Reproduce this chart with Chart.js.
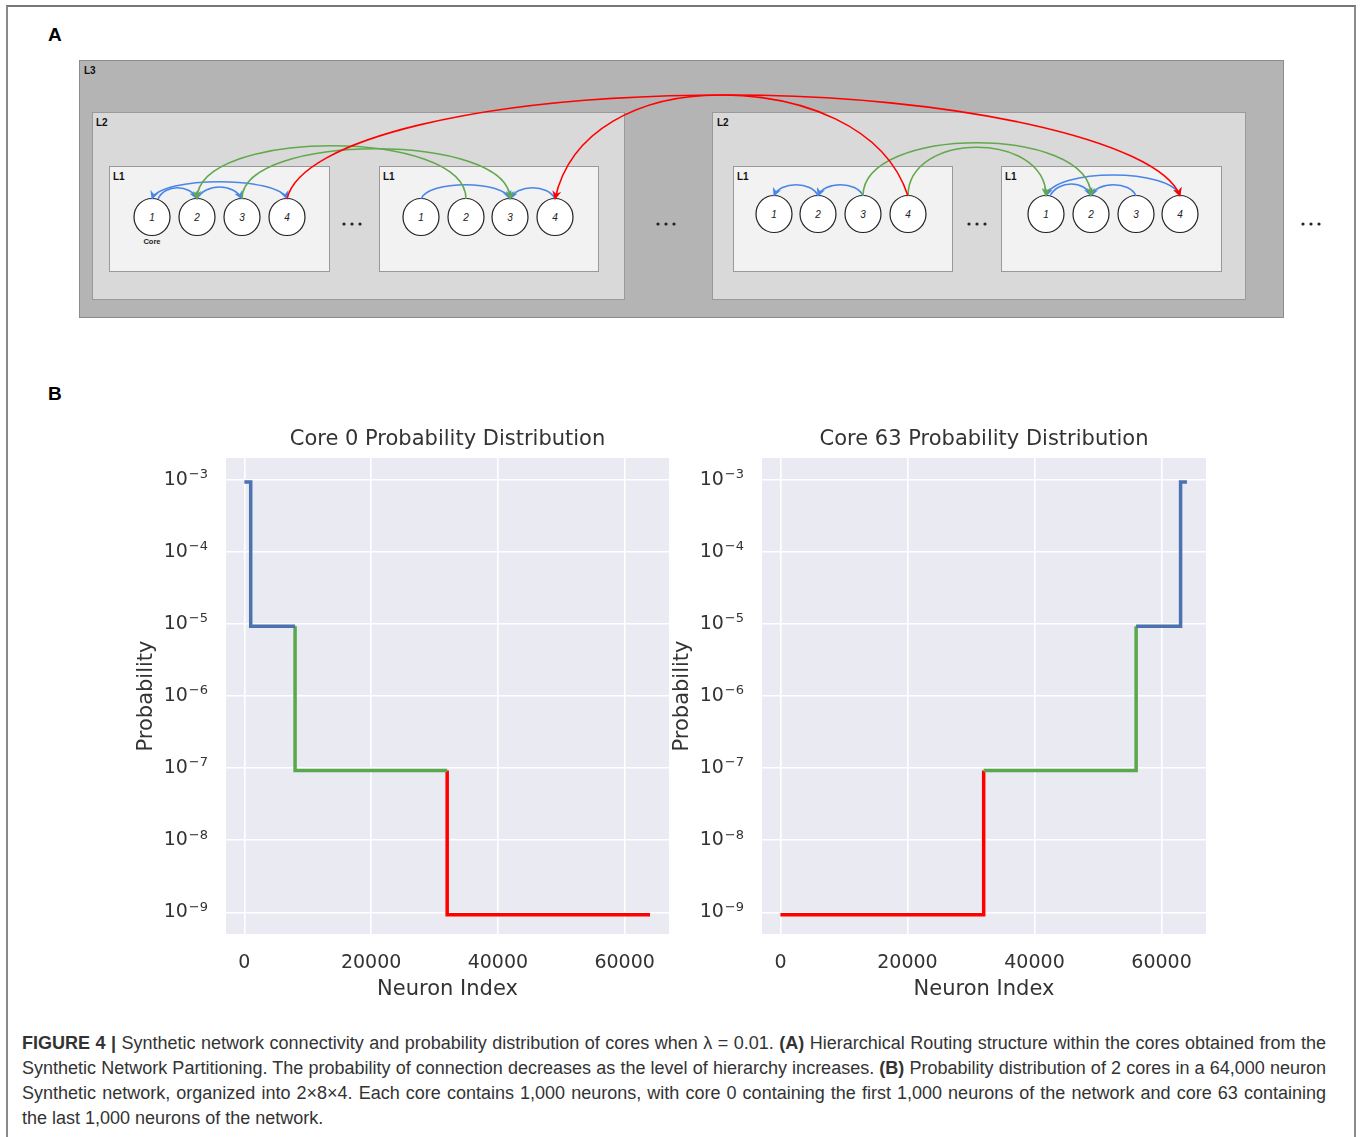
<!DOCTYPE html>
<html>
<head>
<meta charset="utf-8">
<script src="https://cdn.jsdelivr.net/npm/chart.js@4.4.1/dist/chart.umd.min.js"></script>
<style>
  body { margin: 0; width: 1360px; height: 1137px; background: #fff; position: relative; overflow: hidden; font-family: 'Liberation Sans', Arial, sans-serif; }
  #frame { position: absolute; left: 6px; top: 5px; width: 1350px; height: 1140px; box-sizing: border-box;
           border-left: 2px solid #8a8a8a; border-top: 2px solid #777; border-right: 2px solid #8a8a8a; }
  .panel { position: absolute; font-weight: bold; font-size: 19px; color: #000; }
  #diagram { position: absolute; left: 0; top: 0; }
  canvas { position: absolute; }
  #caption { position: absolute; left: 22px; top: 1031px; width: 1304px; font-size: 18px; line-height: 25px; color: #333; }
  #caption div { white-space: nowrap; }
  #caption .j { text-align: justify; text-align-last: justify; }
</style>
</head>
<body>
<div id="frame"></div>
<div class="panel" style="left:48px; top:24px;">A</div>
<div class="panel" style="left:48px; top:383px;">B</div>

<svg id="diagram" width="1360" height="330" xmlns="http://www.w3.org/2000/svg">
  <defs>
    <marker id="ab" viewBox="0 0 10 10" refX="9" refY="5" markerWidth="9" markerHeight="9" markerUnits="userSpaceOnUse" orient="auto-start-reverse"><path d="M0,0 L10,5 L0,10 L3,5 z" fill="#4a86e8"/></marker>
    <marker id="ag" viewBox="0 0 10 10" refX="9" refY="5" markerWidth="9" markerHeight="9" markerUnits="userSpaceOnUse" orient="auto-start-reverse"><path d="M0,0 L10,5 L0,10 L3,5 z" fill="#62a84c"/></marker>
    <marker id="ar" viewBox="0 0 10 10" refX="9" refY="5" markerWidth="9" markerHeight="9" markerUnits="userSpaceOnUse" orient="auto-start-reverse"><path d="M0,0 L10,5 L0,10 L3,5 z" fill="#ff0000"/></marker>
  </defs>
  <!-- boxes -->
  <rect x="79.5" y="60.5" width="1204" height="257" fill="#b4b4b4" stroke="#8c8c8c"/>
  <rect x="92.5" y="112.5" width="532" height="187" fill="#d9d9d9" stroke="#9a9a9a"/>
  <rect x="712.5" y="112.5" width="533" height="187" fill="#d9d9d9" stroke="#9a9a9a"/>
  <rect x="109.5" y="166.5" width="220" height="105" fill="#f2f2f2" stroke="#999"/>
  <rect x="379.5" y="166.5" width="219" height="105" fill="#f2f2f2" stroke="#999"/>
  <rect x="733.5" y="166.5" width="219" height="105" fill="#f2f2f2" stroke="#999"/>
  <rect x="1001.5" y="166.5" width="220" height="105" fill="#f2f2f2" stroke="#999"/>
  <g font-family="Liberation Sans, Arial, sans-serif" font-weight="bold" font-size="10" fill="#111">
    <text x="84" y="74">L3</text>
    <text x="96" y="126">L2</text>
    <text x="717" y="126">L2</text>
    <text x="113" y="180">L1</text>
    <text x="383" y="180">L1</text>
    <text x="737" y="180">L1</text>
    <text x="1005" y="180">L1</text>
  </g>
  <g fill="#222">
    <circle cx="344" cy="224" r="1.6"/><circle cx="352" cy="224" r="1.6"/><circle cx="360" cy="224" r="1.6"/>
    <circle cx="658" cy="224" r="1.6"/><circle cx="666" cy="224" r="1.6"/><circle cx="674" cy="224" r="1.6"/>
    <circle cx="969" cy="224" r="1.6"/><circle cx="977" cy="224" r="1.6"/><circle cx="985" cy="224" r="1.6"/>
    <circle cx="1303" cy="224" r="1.6"/><circle cx="1311" cy="224" r="1.6"/><circle cx="1319" cy="224" r="1.6"/>
  </g>
  <!-- circles -->
  <g fill="#fff" stroke="#222" stroke-width="1.2">
    <ellipse cx="152" cy="217" rx="18" ry="18.5"/><ellipse cx="197" cy="217" rx="18" ry="18.5"/>
    <ellipse cx="242" cy="217" rx="18" ry="18.5"/><ellipse cx="287" cy="217" rx="18" ry="18.5"/>
    <ellipse cx="421" cy="217" rx="18" ry="18.5"/><ellipse cx="466" cy="217" rx="18" ry="18.5"/>
    <ellipse cx="510" cy="217" rx="18" ry="18.5"/><ellipse cx="555" cy="217" rx="18" ry="18.5"/>
    <ellipse cx="774" cy="214" rx="18" ry="18.5"/><ellipse cx="818" cy="214" rx="18" ry="18.5"/>
    <ellipse cx="863" cy="214" rx="18" ry="18.5"/><ellipse cx="908" cy="214" rx="18" ry="18.5"/>
    <ellipse cx="1046" cy="214" rx="18" ry="18.5"/><ellipse cx="1091" cy="214" rx="18" ry="18.5"/>
    <ellipse cx="1136" cy="214" rx="18" ry="18.5"/><ellipse cx="1180" cy="214" rx="18" ry="18.5"/>
  </g>
  <g font-family="Liberation Sans, Arial, sans-serif" font-style="italic" font-size="10" fill="#222" text-anchor="middle">
    <text x="152" y="221">1</text><text x="197" y="221">2</text><text x="242" y="221">3</text><text x="287" y="221">4</text>
    <text x="421" y="221">1</text><text x="466" y="221">2</text><text x="510" y="221">3</text><text x="555" y="221">4</text>
    <text x="774" y="218">1</text><text x="818" y="218">2</text><text x="863" y="218">3</text><text x="908" y="218">4</text>
    <text x="1046" y="218">1</text><text x="1091" y="218">2</text><text x="1136" y="218">3</text><text x="1180" y="218">4</text>
  </g>
  <text x="152" y="244" font-family="Liberation Sans, Arial, sans-serif" font-size="7.5" font-weight="bold" fill="#222" text-anchor="middle">Core</text>
  <!-- arcs -->
  <g fill="none" stroke-width="1.6">
    <g stroke="#4a86e8">
      <path d="M152,199 C160,176 279,176 287,199" marker-start="url(#ab)" marker-end="url(#ab)"/>
      <path d="M158,199 C165,184 190,184 197,199" marker-end="url(#ab)"/>
      <path d="M197,199 C205,183 234,183 242,199" marker-end="url(#ab)"/>
      <path d="M421,199 C428,180 503,180 510,199" marker-end="url(#ab)"/>
      <path d="M555,199 C548,184 517,184 510,199" marker-end="url(#ab)"/>
      <path d="M818,196 C812,181 780,181 774,196" marker-end="url(#ab)"/>
      <path d="M863,196 C857,181 824,181 818,196" marker-end="url(#ab)"/>
      <path d="M1046,196 C1055,168 1171,168 1180,196" marker-start="url(#ab)" marker-end="url(#ab)"/>
      <path d="M1050,196 C1058,180 1085,180 1091,196" marker-end="url(#ab)"/>
      <path d="M1136,196 C1130,181 1097,181 1091,196" marker-end="url(#ab)"/>
    </g>
    <g stroke="#62a84c">
      <path d="M466,199 C466,128 197,128 197,199" marker-end="url(#ag)"/>
      <path d="M242,199 C242,132 510,132 510,199" marker-end="url(#ag)"/>
      <path d="M863,196 C863,125 1091,125 1091,196" marker-end="url(#ag)"/>
      <path d="M908,196 C908,131 1046,131 1046,196" marker-end="url(#ag)"/>
    </g>
    <g stroke="#ff0000">
      <path d="M287,199 C300,140 480,95 730,95 C950,95 1160,140 1180,196" marker-end="url(#ar)"/>
      <path d="M908,196 C885,125 800,95 720,95 C640,95 570,130 555,199" marker-end="url(#ar)"/>
    </g>
  </g>
</svg>

<canvas id="core0" width="539" height="590" style="left:130px; top:420px;"></canvas>
<canvas id="core63" width="540" height="590" style="left:666px; top:420px;"></canvas>

<div id="caption">
  <div class="j"><b>FIGURE 4 |</b> Synthetic network connectivity and probability distribution of cores when λ = 0.01. <b>(A)</b> Hierarchical Routing structure within the cores obtained from the</div>
  <div class="j">Synthetic Network Partitioning. The probability of connection decreases as the level of hierarchy increases. <b>(B)</b> Probability distribution of 2 cores in a 64,000 neuron</div>
  <div class="j">Synthetic network, organized into 2×8×4. Each core contains 1,000 neurons, with core 0 containing the first 1,000 neurons of the network and core 63 containing</div>
  <div>the last 1,000 neurons of the network.</div>
</div>

<script>
// neuron index where each probability level starts/ends, and the level values
const core0Bounds = [0, 1000, 8000, 32000, 64000];
const core0Levels = [9.3e-4, 9.3e-6, 9.3e-8, 9.3e-10];
const core63Bounds = [0, 32000, 56000, 63000, 64000];
const core63Levels = [9.3e-10, 9.3e-8, 9.3e-6, 9.3e-4];

const xTicks = [0, 20000, 40000, 60000];
const yExponents = [-3, -4, -5, -6, -7, -8, -9];
const yTickBase = '10';
const yTickExps = ['−3', '−4', '−5', '−6', '−7', '−8', '−9'];

const BLUE = '#4c72b0';
const GREEN = '#59a84b';
const RED = '#ff0000';
const TEXT = '#333';
const FONT = "'DejaVu Sans', sans-serif";

Chart.defaults.font.family = FONT;

const plotBg = {
    id: 'plotBg',
    beforeDraw(chart) {
        const { ctx, chartArea: a } = chart;
        ctx.save();
        ctx.fillStyle = '#eaeaf2';
        ctx.fillRect(a.left, a.top, a.right - a.left, a.bottom - a.top);
        ctx.restore();
    }
};

// draw "10" with a raised exponent, like matplotlib's log ticks
const logLabels = {
    id: 'logLabels',
    afterDraw(chart) {
        const { ctx } = chart;
        const y = chart.scales.y;
        const right = y.right - 18;
        ctx.save();
        ctx.fillStyle = TEXT;
        ctx.textAlign = 'right';
        ctx.textBaseline = 'middle';
        y.ticks.forEach(t => {
            const i = yExponents.indexOf(Math.round(Math.log10(t.value)));
            const py = y.getPixelForValue(t.value);
            ctx.font = '13px ' + FONT;
            ctx.fillText(yTickExps[i], right, py - 5);
            const w = ctx.measureText(yTickExps[i]).width;
            ctx.font = '19px ' + FONT;
            ctx.fillText(yTickBase, right - w - 1, py);
        });
        ctx.restore();
    }
};

function line(data, color, stepped) {
    return {
        data: data,
        borderColor: color,
        borderWidth: 3.5,
        pointRadius: 0,
        showLine: true,
        stepped: stepped,
        borderCapStyle: 'butt',
        borderJoinStyle: 'miter'
    };
}

function makeChart(id, title, datasets) {
    const tickFont = { size: 19, lineHeight: '24px' };
    const titleFont = { size: 21, lineHeight: '24px' };
    new Chart(document.getElementById(id), {
        type: 'scatter',
        data: { datasets: datasets },
        plugins: [plotBg, logLabels],
        options: {
            responsive: false,
            animation: false,
            devicePixelRatio: 1,
            layout: { padding: 0 },
            plugins: {
                legend: { display: false },
                tooltip: { enabled: false },
                title: {
                    display: true,
                    text: title,
                    fullSize: false,
                    color: TEXT,
                    font: { size: 21, weight: 'normal', lineHeight: '24px' },
                    padding: { top: 8, bottom: 6 }
                }
            },
            scales: {
                x: {
                    type: 'linear',
                    min: -2900,
                    max: 67000,
                    afterBuildTicks: s => { s.ticks = xTicks.map(v => ({ value: v })); },
                    afterFit: s => { s.height = 76; s.paddingLeft = 0; s.paddingRight = 0; },
                    ticks: { color: TEXT, font: tickFont, padding: 17, maxRotation: 0, callback: v => String(v) },
                    grid: { color: '#ffffff', lineWidth: 1.6, drawTicks: false },
                    border: { display: false },
                    title: { display: true, text: 'Neuron Index', color: TEXT, font: titleFont, padding: { top: 0, bottom: 8 } }
                },
                y: {
                    type: 'logarithmic',
                    min: Math.pow(10, -9.3),
                    max: Math.pow(10, -2.7),
                    afterBuildTicks: s => { s.ticks = yExponents.map(e => ({ value: Math.pow(10, e) })); },
                    afterFit: s => { s.width = 96; s.paddingTop = 0; s.paddingBottom = 0; },
                    ticks: { padding: 18, callback: () => '' },
                    grid: { color: '#ffffff', lineWidth: 1.6, drawTicks: false },
                    border: { display: false },
                    title: { display: true, text: 'Probability', color: TEXT, font: titleFont, padding: { top: 5, bottom: 0 } }
                }
            }
        }
    });
}

// Core 0: level drops at each boundary
const b0 = core0Bounds, l0 = core0Levels;
makeChart('core0', 'Core 0 Probability Distribution', [
    line([{ x: b0[0], y: l0[0] }, { x: b0[1], y: l0[1] }, { x: b0[2], y: l0[1] }], BLUE, 'before'),
    line([{ x: b0[2], y: l0[1] }, { x: b0[3], y: l0[2] }], GREEN, 'after'),
    line([{ x: b0[3], y: l0[2] }, { x: b0[4], y: l0[3] }], RED, 'after')
]);

// Core 63: level rises at each boundary
const b63 = core63Bounds, l63 = core63Levels;
makeChart('core63', 'Core 63 Probability Distribution', [
    line([{ x: b63[2], y: l63[2] }, { x: b63[3], y: l63[3] }, { x: b63[4], y: l63[3] }], BLUE, 'before'),
    line([{ x: b63[1], y: l63[1] }, { x: b63[2], y: l63[2] }], GREEN, 'before'),
    line([{ x: b63[0], y: l63[0] }, { x: b63[1], y: l63[1] }], RED, 'before')
]);
</script>
</body>
</html>
